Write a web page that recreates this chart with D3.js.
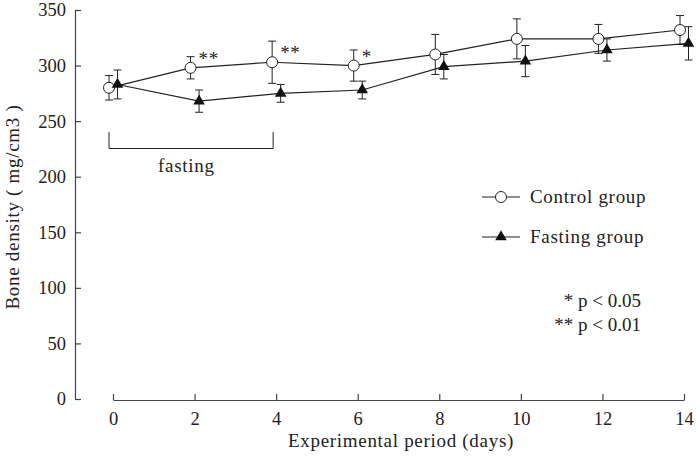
<!DOCTYPE html>
<html>
<head>
<meta charset="utf-8">
<script src="https://cdn.jsdelivr.net/npm/d3@7"></script>
<style>
    body { margin: 0; background: #fff; }
    text { font-family: "Liberation Serif", "Times New Roman", serif; fill: #222; }
    .label { font-size: 19px; letter-spacing: 0.7px; }
    .note { font-size: 19px; }
</style>
</head>
<body>
<div id="graph"></div>
<script>
// data
var days = [0, 2, 4, 6, 8, 10, 12, 14];
var controlMean = [280, 298, 303, 300, 310, 324, 324, 332];
var controlSD = [11, 10, 19, 14, 18, 18, 13, 13];
var fastingMean = [283, 268, 275, 278, 299, 304, 314, 320];
var fastingSD = [13, 10, 8, 8, 11, 14, 10, 15];
var yTicks = [0, 50, 100, 150, 200, 250, 300, 350];
var xTicks = [0, 2, 4, 6, 8, 10, 12, 14];
var sigDays = [2, 4, 6];
var sigLabels = ['**', '**', '*'];
var fastingPeriod = [0, 4];
var groupNames = ['Control group', 'Fasting group'];
var pNotes = ['* p < 0.05', '** p < 0.01'];

var width = 696,
    height = 459;
var ink = '#222';
var axisInk = '#444';

var svg = d3.select('#graph')
    .append('svg')
        .attr('width', width)
        .attr('height', height);

var x = d3.scaleLinear()
    .domain([0, 14])
    .range([113, 684]);

var y = d3.scaleLinear()
    .domain([0, 350])
    .range([399, 10]);

// axes -------------------------------------------------------------------
var xAxis = svg.append('g')
    .attr('transform', 'translate(0,400)')
    .call(d3.axisBottom(x).tickValues(xTicks).tickSizeInner(-6).tickSizeOuter(0).tickPadding(12));

var yAxis = svg.append('g')
    .attr('transform', 'translate(75,0)')
    .call(d3.axisLeft(y).tickValues(yTicks).tickSizeInner(-6).tickSizeOuter(0).tickPadding(9));

svg.selectAll('g').attr('font-family', null);
svg.selectAll('.tick text')
    .style('font-size', '18.5px')
    .attr('fill', ink);
svg.selectAll('.domain, .tick line')
    .attr('stroke', axisInk)
    .attr('stroke-width', 1.2);

svg.append('text')
    .attr('class', 'label')
    .attr('x', 401)
    .attr('y', 447)
    .attr('text-anchor', 'middle')
    .text('Experimental period (days)');

svg.append('text')
    .attr('class', 'label')
    .attr('transform', 'translate(19,207) rotate(-90)')
    .attr('text-anchor', 'middle')
    .text('Bone density ( mg/cm3 )');

// series -----------------------------------------------------------------
var series = [
    { mean: controlMean, sd: controlSD, dx: -4, marker: 'circle' },
    { mean: fastingMean, sd: fastingSD, dx: 4.5, marker: 'triangle' }
];

var line = d3.line()
    .x(function(d) { return d.px; })
    .y(function(d) { return y(d.v); });

series.forEach(function(s) {
    var pts = days.map(function(d, i) {
        return { px: x(d) + s.dx, v: s.mean[i], sd: s.sd[i] };
    });

    var g = svg.append('g');

    // error bars
    var eb = g.selectAll('.err')
        .data(pts).enter().append('g');
    eb.append('line')
        .attr('x1', function(d) { return d.px; })
        .attr('x2', function(d) { return d.px; })
        .attr('y1', function(d) { return y(d.v - d.sd); })
        .attr('y2', function(d) { return y(d.v + d.sd); })
        .attr('stroke', ink);
    [1, -1].forEach(function(sign) {
        eb.append('line')
            .attr('x1', function(d) { return d.px - 4; })
            .attr('x2', function(d) { return d.px + 4; })
            .attr('y1', function(d) { return y(d.v + sign * d.sd); })
            .attr('y2', function(d) { return y(d.v + sign * d.sd); })
            .attr('stroke', ink);
    });

    g.append('path')
        .datum(pts)
        .attr('d', line)
        .attr('fill', 'none')
        .attr('stroke', ink)
        .attr('stroke-width', 1.2);

    if (s.marker == 'circle') {
        g.selectAll('circle')
            .data(pts).enter().append('circle')
            .attr('cx', function(d) { return d.px; })
            .attr('cy', function(d) { return y(d.v); })
            .attr('r', 5.5)
            .attr('fill', '#fff')
            .attr('stroke', ink);
    } else {
        g.selectAll('.tri')
            .data(pts).enter().append('path')
            .attr('d', d3.symbol().type(d3.symbolTriangle).size(58))
            .attr('transform', function(d) { return 'translate(' + d.px + ',' + y(d.v) + ')'; })
            .attr('fill', '#111');
    }
});

// significance marks on the control group
svg.append('g')
    .selectAll('text')
    .data(sigDays).enter().append('text')
    .attr('class', 'label')
    .attr('x', function(d) { return x(d) + 4; })
    .attr('y', function(d) { return y(controlMean[days.indexOf(d)]) - 3; })
    .text(function(d, i) { return sigLabels[i]; });

// fasting bracket
var bx0 = x(fastingPeriod[0]) - 4,
    bx1 = x(fastingPeriod[1]) - 3;
svg.append('path')
    .attr('d', 'M' + bx0 + ',132V148.5H' + bx1 + 'V132')
    .attr('fill', 'none')
    .attr('stroke', ink);
svg.append('text')
    .attr('class', 'label')
    .attr('x', 158)
    .attr('y', 172)
    .text('fasting');

// LEGEND ----------------------------------------------------------------------
var legend = svg.append('g');
groupNames.forEach(function(name, i) {
    var ly = 197 + i * 40;
    legend.append('line')
        .attr('x1', 482).attr('x2', 520)
        .attr('y1', ly).attr('y2', ly)
        .attr('stroke', ink);
    if (i == 0) {
        legend.append('circle')
            .attr('cx', 501).attr('cy', ly).attr('r', 5.5)
            .attr('fill', '#fff').attr('stroke', ink);
    } else {
        legend.append('path')
            .attr('d', d3.symbol().type(d3.symbolTriangle).size(58))
            .attr('transform', 'translate(501,' + ly + ')')
            .attr('fill', '#111');
    }
    legend.append('text')
        .attr('class', 'label')
        .attr('x', 530)
        .attr('y', ly + 6)
        .text(name);
});

svg.append('g')
    .selectAll('text')
    .data(pNotes).enter().append('text')
    .attr('class', 'note')
    .attr('x', 641)
    .attr('y', function(d, i) { return 307 + i * 24; })
    .attr('text-anchor', 'end')
    .text(function(d) { return d; });
</script>
</body>
</html>
